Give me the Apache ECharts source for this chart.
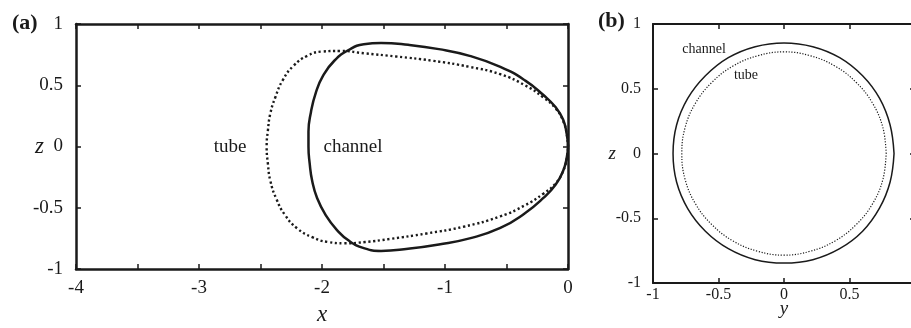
<!DOCTYPE html>
<html>
<head>
<meta charset="utf-8">
<script src="https://cdn.jsdelivr.net/npm/echarts@6/dist/echarts.min.js"></script>
<style>
  html, body { margin: 0; padding: 0; background: #fff; }
  #chart { width: 911px; height: 328px; }
</style>
</head>
<body>
<div id="chart"></div>
<script>
// Panel (a): side view of the two cross-section outlines, points as [x, z]
const channelSide = [
  [0, 0], [-0.01, 0.10], [-0.04, 0.22], [-0.10, 0.32], [-0.20, 0.42], [-0.35, 0.54],
  [-0.55, 0.65], [-0.80, 0.74], [-1.05, 0.795], [-1.30, 0.83], [-1.52, 0.845],
  [-1.66, 0.835], [-1.78, 0.79], [-1.90, 0.70], [-1.99, 0.58], [-2.05, 0.44],
  [-2.09, 0.28], [-2.11, 0.12], [-2.11, 0], [-2.10, -0.14], [-2.08, -0.28],
  [-2.04, -0.42], [-1.97, -0.56], [-1.88, -0.68], [-1.78, -0.77], [-1.66, -0.83],
  [-1.52, -0.853], [-1.30, -0.835], [-1.05, -0.80], [-0.80, -0.75], [-0.55, -0.665],
  [-0.35, -0.545], [-0.20, -0.42], [-0.10, -0.31], [-0.04, -0.20], [-0.01, -0.09], [0, 0]
];
const tubeSide = [
  [0, 0], [-0.01, 0.10], [-0.04, 0.21], [-0.10, 0.31], [-0.20, 0.40], [-0.35, 0.50],
  [-0.55, 0.59], [-0.80, 0.65], [-1.10, 0.70], [-1.40, 0.735], [-1.65, 0.76],
  [-1.85, 0.78], [-2.00, 0.775], [-2.12, 0.74], [-2.23, 0.66], [-2.32, 0.54],
  [-2.38, 0.40], [-2.42, 0.27], [-2.44, 0.13], [-2.45, 0], [-2.44, -0.14],
  [-2.42, -0.28], [-2.37, -0.43], [-2.30, -0.56], [-2.20, -0.67], [-2.08, -0.74],
  [-1.95, -0.78], [-1.82, -0.79], [-1.65, -0.78], [-1.45, -0.755], [-1.15, -0.71],
  [-0.85, -0.655], [-0.55, -0.57], [-0.35, -0.48], [-0.20, -0.385], [-0.10, -0.30],
  [-0.04, -0.20], [-0.01, -0.10], [0, 0]
];

// Panel (b): front view, points as [y, z]
const channelFront = [
  [0.84, 0], [0.81, 0.22], [0.73, 0.425], [0.60, 0.60], [0.425, 0.74], [0.22, 0.825],
  [0, 0.854], [-0.22, 0.825], [-0.425, 0.74], [-0.60, 0.60], [-0.735, 0.425],
  [-0.82, 0.22], [-0.847, 0], [-0.82, -0.22], [-0.735, -0.425], [-0.60, -0.60],
  [-0.425, -0.735], [-0.22, -0.82], [0, -0.846], [0.22, -0.82], [0.425, -0.735],
  [0.60, -0.60], [0.73, -0.42], [0.81, -0.22], [0.84, 0]
];
const tubeFront = [
  [0.78, 0], [0.755, 0.20], [0.675, 0.39], [0.55, 0.55], [0.39, 0.675], [0.20, 0.755],
  [0, 0.785], [-0.20, 0.755], [-0.39, 0.675], [-0.55, 0.55], [-0.675, 0.39],
  [-0.755, 0.20], [-0.78, 0], [-0.755, -0.20], [-0.675, -0.39], [-0.55, -0.55],
  [-0.39, -0.675], [-0.20, -0.755], [0, -0.785], [0.20, -0.755], [0.39, -0.675],
  [0.55, -0.55], [0.675, -0.39], [0.755, -0.20], [0.78, 0]
];

const xRangeA = [-4, 0];
const zRange = [-1, 1];
const yRangeB = [-1, 1];
const tickStep = 0.5;

const FONT = '"Liberation Serif", "DejaVu Serif", serif';
const INK = '#1a1a1a';

function axis(opts) {
  const { grid, pos, range, labels, fontSize, margin, name, nameGap, nameSize, lineW, formatter } = opts;
  return {
    type: 'value',
    gridIndex: grid,
    position: pos,
    min: range[0],
    max: range[1],
    interval: tickStep,
    splitLine: { show: false },
    axisLine: { show: true, onZero: false, lineStyle: { color: INK, width: lineW } },
    axisTick: { show: true, inside: true, length: 5, lineStyle: { color: INK, width: 1.5 } },
    axisLabel: {
      show: labels,
      fontFamily: FONT,
      fontSize: fontSize,
      color: INK,
      margin: margin,
      formatter: formatter || (v => String(v))
    },
    name: name || '',
    nameLocation: 'middle',
    nameGap: nameGap || 0,
    nameRotate: 0,
    nameMoveOverlap: false,
    nameTextStyle: { fontFamily: FONT, fontStyle: 'italic', fontSize: nameSize || 20, color: INK }
  };
}

const intOnly = v => (Number.isInteger(v) ? String(v) : '');

const chart = echarts.init(document.getElementById('chart'), null, { renderer: 'canvas' });

chart.setOption({
  backgroundColor: '#fff',
  animation: false,
  grid: [
    { left: 76, top: 24, width: 492, height: 245, outerBoundsMode: 'none', containLabel: false },
    { left: 653, top: 24, width: 262, height: 259, outerBoundsMode: 'none', containLabel: false }
  ],
  xAxis: [
    axis({ grid: 0, pos: 'bottom', range: xRangeA, labels: true, fontSize: 19, margin: 10, name: 'x', nameGap: 34, nameSize: 23, lineW: 2.5, formatter: intOnly }),
    axis({ grid: 0, pos: 'top', range: xRangeA, labels: false, lineW: 2.5 }),
    axis({ grid: 1, pos: 'bottom', range: yRangeB, labels: true, fontSize: 16, margin: 4, name: 'y', nameGap: 16, nameSize: 19, lineW: 2 }),
    axis({ grid: 1, pos: 'top', range: yRangeB, labels: false, lineW: 2 })
  ],
  yAxis: [
    axis({ grid: 0, pos: 'left', range: zRange, labels: true, fontSize: 19, margin: 13, name: 'z', nameGap: 32, nameSize: 23, lineW: 2.5 }),
    axis({ grid: 0, pos: 'right', range: zRange, labels: false, lineW: 2.5 }),
    axis({ grid: 1, pos: 'left', range: zRange, labels: true, fontSize: 16, margin: 12, name: 'z', nameGap: 37, nameSize: 19, lineW: 2 }),
    axis({ grid: 1, pos: 'right', range: zRange, labels: false, lineW: 2 })
  ],
  series: [
    {
      name: 'channel', type: 'line', xAxisIndex: 0, yAxisIndex: 0, data: channelSide,
      smooth: 0.5, showSymbol: false, clip: false,
      lineStyle: { color: INK, width: 2.5 }
    },
    {
      name: 'tube', type: 'line', xAxisIndex: 0, yAxisIndex: 0, data: tubeSide,
      smooth: 0.5, showSymbol: false, clip: false,
      lineStyle: { color: INK, width: 2.4, type: [2.2, 2.6], cap: 'butt' }
    },
    {
      name: 'channel', type: 'line', xAxisIndex: 2, yAxisIndex: 2, data: channelFront,
      smooth: 0.4, showSymbol: false, clip: false,
      lineStyle: { color: INK, width: 1.5 }
    },
    {
      name: 'tube', type: 'line', xAxisIndex: 2, yAxisIndex: 2, data: tubeFront,
      smooth: 0.4, showSymbol: false, clip: false,
      lineStyle: { color: INK, width: 1.2, type: [1.2, 1.6], cap: 'butt' }
    }
  ],
  graphic: [
    { type: 'text', left: 12, top: 12, style: { text: '(a)', font: 'bold 22px ' + FONT, fill: INK } },
    { type: 'text', left: 598, top: 10, style: { text: '(b)', font: 'bold 22px ' + FONT, fill: INK } },
    { type: 'text', x: 230, y: 147, style: { text: 'tube', font: '19px ' + FONT, fill: INK, align: 'center', verticalAlign: 'middle' } },
    { type: 'text', x: 353, y: 147, style: { text: 'channel', font: '19px ' + FONT, fill: INK, align: 'center', verticalAlign: 'middle' } },
    { type: 'text', x: 704, y: 49, style: { text: 'channel', font: '14px ' + FONT, fill: INK, align: 'center', verticalAlign: 'middle' } },
    { type: 'text', x: 746, y: 75, style: { text: 'tube', font: '14px ' + FONT, fill: INK, align: 'center', verticalAlign: 'middle' } }
  ]
});
</script>
</body>
</html>
